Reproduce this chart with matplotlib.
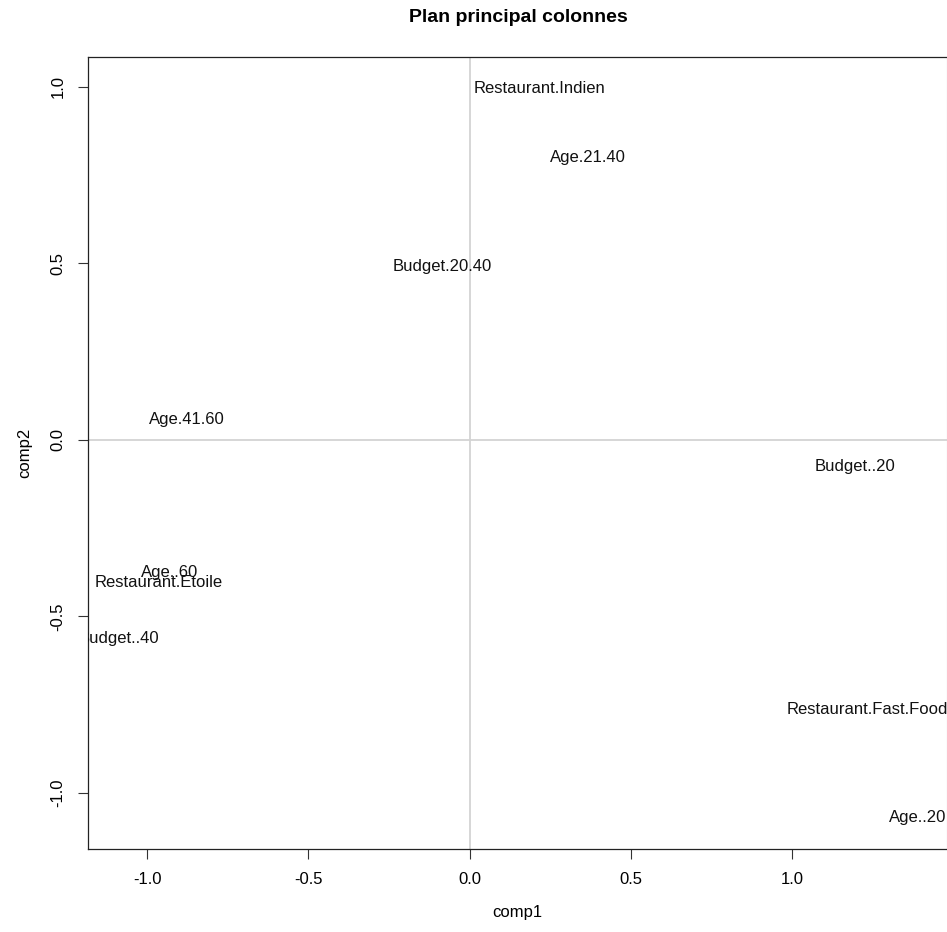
import matplotlib.pyplot as plt

plt.rcParams["font.family"] = ["Liberation Sans", "DejaVu Sans"]

# coordonnees des modalites (plan 1-2)
labels = ["Restaurant.Indien", "Age.21.40", "Budget.20.40", "Age.41.60",
          "Budget..20", "Age..60", "Restaurant.Etoile", "Budget..40",
          "Restaurant.Fast.Food", "Age..20"]
comp1 = [0.216, 0.367, -0.085, -0.876, 1.195, -0.929, -0.963, -1.087, 1.232, 1.388]
comp2 = [0.997, 0.799, 0.490, 0.057, -0.076, -0.377, -0.405, -0.564, -0.765, -1.071]

xticks = [-1.0, -0.5, 0.0, 0.5, 1.0]
yticks = [-1.0, -0.5, 0.0, 0.5, 1.0]

W, H = 947, 932
fig = plt.figure(figsize=(W / 100, H / 100), dpi=100)
ax = fig.add_axes([88 / W, (H - 849) / H, (947 - 88) / W, (849 - 57) / H])

ax.set_xlim(-1.183, 1.480)
ax.set_ylim(-1.159, 1.085)

ax.axvline(0, color="#d3d3d3", lw=1.3, zorder=0)
ax.axhline(0, color="#d3d3d3", lw=1.3, zorder=0)

for lab, x, y in zip(labels, comp1, comp2):
    ax.text(x, y, lab, ha="center", va="center", fontsize=12, color="#111111", clip_on=True)

ax.set_xticks(xticks)
ax.set_yticks(yticks)
ax.set_xticklabels([f"{v:.1f}" for v in xticks])
ax.set_yticklabels([f"{v:.1f}" for v in yticks])
plt.setp(ax.get_yticklabels(), rotation=90, va="center")
ax.tick_params(direction="out", length=7.2, width=0.8, labelsize=12, pad=9, color="#333333")

for s in ["left", "bottom", "top"]:
    ax.spines[s].set_linewidth(0.9)
    ax.spines[s].set_color("#222222")
ax.spines["right"].set_color("#c8c8c8")

ax.set_xlabel("comp1", fontsize=12, labelpad=13)
ax.set_ylabel("comp2", fontsize=12, labelpad=13)

fig.text(518 / W, 1 - 18 / H, "Plan principal colonnes", ha="center", va="center",
         fontsize=14, fontweight="bold")

fig.savefig("out.png", dpi=100)
